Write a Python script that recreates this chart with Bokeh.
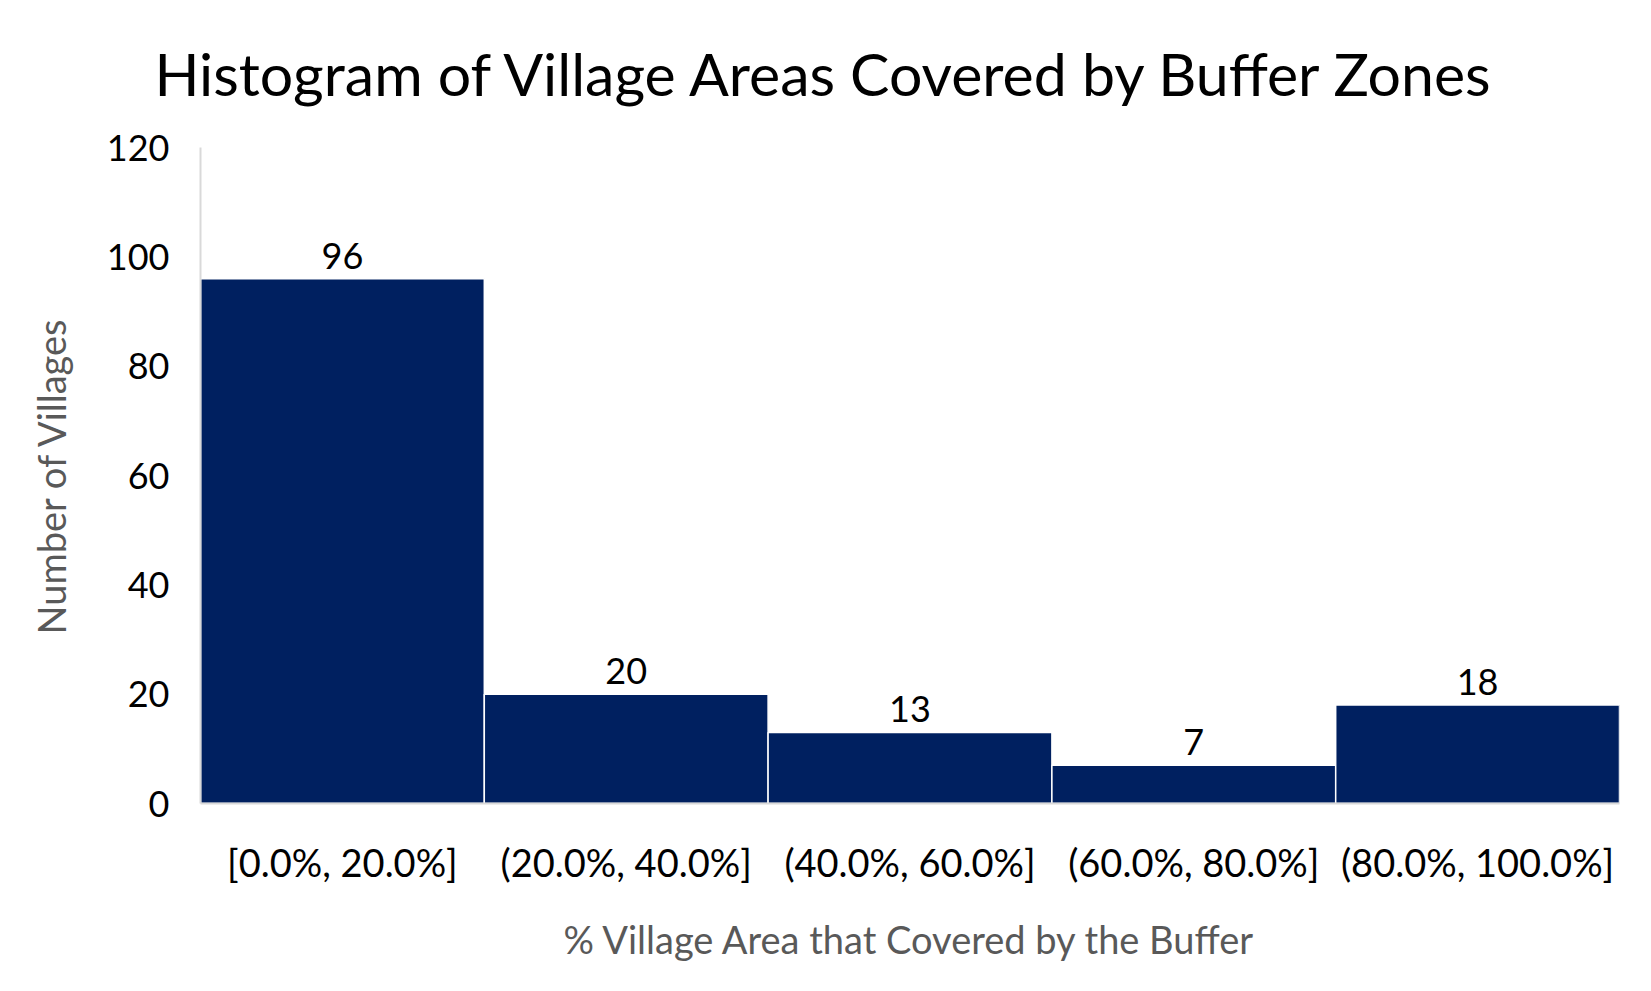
from bokeh.plotting import figure
from bokeh.models import ColumnDataSource, FactorRange
from bokeh.core.properties import value
from bokeh.embed import file_html
from bokeh.resources import INLINE

bins = ["[0.0%, 20.0%]", "(20.0%, 40.0%]", "(40.0%, 60.0%]", "(60.0%, 80.0%]", "(80.0%, 100.0%]"]
counts = [96, 20, 13, 7, 18]
y_ticks = [0, 20, 40, 60, 80, 100, 120]

FONT = "Lato"

src = ColumnDataSource(data=dict(bins=bins, counts=counts, labels=[str(c) for c in counts]))

p = figure(width=1651, height=991, x_range=FactorRange(factors=bins, range_padding=0),
           y_range=(0, 120), output_backend="svg", toolbar_location=None,
           min_border_left=200, min_border_right=32, min_border_top=147, min_border_bottom=188)

p.vbar(x="bins", top="counts", width=1.0, source=src, fill_color="#002060",
       line_color="white", line_width=1.5)

p.text(x="bins", y="counts", text="labels", source=src, text_align="center",
       text_baseline="bottom", y_offset=-10, text_font=value(FONT), text_font_size="36px",
       text_color="#000000")

p.title.text = "Histogram of Village Areas Covered by Buffer Zones"
p.title.text_font = FONT
p.title.text_font_size = "59px"
p.title.text_font_style = "normal"
p.title.align = "left"
p.title.vertical_align = "top"
p.title.offset = -46
p.title.standoff = 74
p.title.text_color = "#000000"

p.outline_line_color = None
p.xgrid.visible = False
p.ygrid.visible = False

p.yaxis.ticker = y_ticks
p.yaxis.axis_label = "Number of Villages"
p.xaxis.axis_label = "% Village Area that Covered by the Buffer"
for ax in (p.xaxis, p.yaxis):
    ax.axis_line_color = "#d9d9d9"
    ax.axis_line_width = 2
    ax.major_tick_line_color = None
    ax.minor_tick_line_color = None
    ax.major_label_text_font = FONT
    ax.major_label_text_color = "#000000"
    ax.axis_label_text_font = FONT
    ax.axis_label_text_font_size = "38px"
    ax.axis_label_text_font_style = "normal"
    ax.axis_label_text_color = "#595959"

p.yaxis.major_label_text_font_size = "36px"
p.xaxis.major_label_text_font_size = "38px"
p.yaxis.major_label_standoff = 25
p.yaxis.axis_label_standoff = 30
p.xaxis.major_label_standoff = 29
p.xaxis.axis_label_standoff = 28

open("out.html", "w").write(file_html(p, INLINE))
